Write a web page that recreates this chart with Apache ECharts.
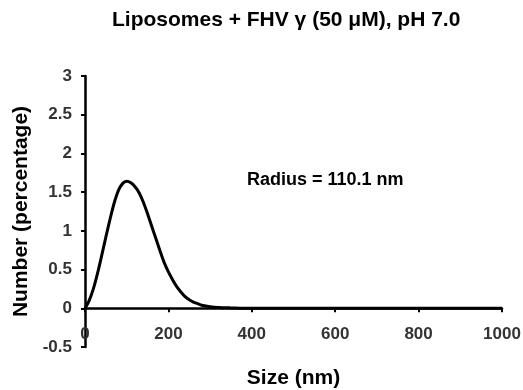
<!DOCTYPE html>
<html>
<head>
<meta charset="utf-8">
<script src="https://cdn.jsdelivr.net/npm/echarts@6/dist/echarts.min.js"></script>
<style>
  html, body { margin: 0; padding: 0; background: #fff; }
  #chart { width: 523px; height: 390px; }
</style>
</head>
<body>
<div id="chart"></div>
<script>
// size distribution
const sizes = [0, 10, 20, 30, 40, 50, 60, 70, 80, 90, 100, 110, 120, 130, 140, 150, 160, 170, 180, 190, 200,
  210, 220, 230, 240, 250, 260, 270, 280, 300, 320, 350, 400, 500, 600, 700, 800, 900, 1000];
const numbers = [0, 0.1, 0.25, 0.45, 0.68, 0.92, 1.15, 1.36, 1.52, 1.61, 1.64, 1.62, 1.57, 1.49, 1.37, 1.22, 1.06, 0.9, 0.74, 0.59, 0.47,
  0.37, 0.28, 0.21, 0.15, 0.11, 0.08, 0.06, 0.04, 0.02, 0.01, 0.005, 0, 0, 0, 0, 0, 0, 0];
const xTicks = [0, 200, 400, 600, 800, 1000];
const yTicks = [-0.5, 0, 0.5, 1, 1.5, 2, 2.5, 3];

const titleText = 'Liposomes + FHV \u03b3 (50 \u03bcM), pH 7.0';
const noteText = 'Radius = 110.1 nm';
const font = '"Liberation Sans", Arial, sans-serif';

const chart = echarts.init(document.getElementById('chart'));

const option = {
    animation: false,
    backgroundColor: '#fff',
    grid: {
        left: 85,
        right: 21,
        top: 76,
        bottom: 43,
        containLabel: false,
        outerBoundsMode: 'none'
    },
    xAxis: {
        type: 'value',
        min: xTicks[0],
        max: xTicks[xTicks.length - 1],
        interval: 200,
        name: 'Size (nm)',
        nameLocation: 'middle',
        nameGap: 21,
        nameTextStyle: {
            fontFamily: font,
            fontSize: 21,
            fontWeight: 'bold',
            color: '#000'
        },
        axisLine: {
            onZero: true,
            lineStyle: { color: '#000', width: 2.5 }
        },
        axisTick: {
            show: true,
            inside: false,
            length: 4,
            lineStyle: { color: '#000', width: 2 }
        },
        axisLabel: {
            margin: -21,
            fontFamily: font,
            fontSize: 17,
            fontWeight: 'bold',
            color: '#333',
            formatter: v => String(v)
        },
        splitLine: { show: false }
    },
    yAxis: {
        type: 'value',
        min: yTicks[0],
        max: yTicks[yTicks.length - 1],
        interval: 0.5,
        name: 'Number (percentage)',
        nameLocation: 'middle',
        nameRotate: 90,
        nameGap: 49,
        nameTextStyle: {
            fontFamily: font,
            fontSize: 21,
            fontWeight: 'bold',
            color: '#000'
        },
        axisLine: {
            show: true,
            onZero: false,
            lineStyle: { color: '#000', width: 2.5 }
        },
        axisTick: {
            show: true,
            length: 4,
            lineStyle: { color: '#000', width: 2 }
        },
        axisLabel: {
            margin: 13,
            fontFamily: font,
            fontSize: 17,
            fontWeight: 'bold',
            color: '#333'
        },
        splitLine: { show: false }
    },
    graphic: [{
        type: 'text',
        left: 112,
        top: 10,
        style: {
            text: titleText,
            font: 'bold 21px ' + font,
            fill: '#000'
        }
    }, {
        type: 'text',
        left: 247,
        top: 171,
        style: {
            text: noteText,
            font: 'bold 18px ' + font,
            fill: '#000'
        }
    }],
    series: [{
        type: 'line',
        data: sizes.map((s, i) => [s, numbers[i]]),
        smooth: 0.3,
        showSymbol: false,
        lineStyle: { color: '#000', width: 3 },
        z: 3
    }]
};

chart.setOption(option);
</script>
</body>
</html>
